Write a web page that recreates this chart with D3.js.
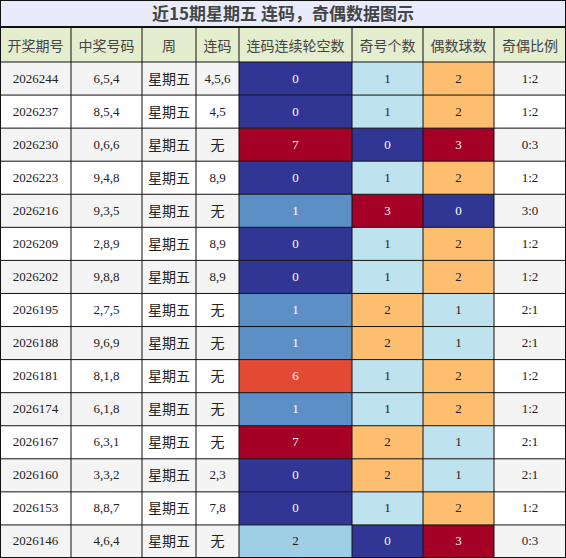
<!DOCTYPE html><html><head><meta charset="utf-8"><script src="https://cdn.jsdelivr.net/npm/d3@7"></script>
<style>body{margin:0;background:#fff}</style></head><body><svg id="c" width="566" height="558"></svg>
<script>
const headers=["开奖期号","中奖号码","周","连码","连码连续轮空数","奇号个数","偶数球数","奇偶比例"];
const issues=["2026244","2026237","2026230","2026223","2026216","2026209","2026202","2026195","2026188","2026181","2026174","2026167","2026160","2026153","2026146"];
const numbers=["6,5,4","8,5,4","0,6,6","9,4,8","9,3,5","2,8,9","9,8,8","2,7,5","9,6,9","8,1,8","6,1,8","6,3,1","3,3,2","8,8,7","4,6,4"];
const links=["4,5,6","4,5","无","8,9","无","8,9","8,9","无","无","无","无","无","2,3","7,8","无"];
const gaps=[0,0,7,0,1,0,0,1,1,6,1,7,0,0,2];
const odds=[1,1,0,1,3,1,1,2,2,1,1,2,2,1,0];
const evens=[2,2,3,2,0,2,2,1,1,2,2,1,1,2,3];
const ratios=["1:2","1:2","0:3","1:2","3:0","1:2","1:2","2:1","2:1","1:2","1:2","2:1","2:1","1:2","0:3"];
const colEdges=[0,71,142,196,239,352,423,494,566];
const svg=d3.select("#c");
const y=d3.scaleBand().domain(d3.range(15)).range([62,558]);
const gapColor=v=>({0:"#313695",1:"#5b8fc6",2:"#9ecfe4",6:"#e34a33",7:"#a50026"}[v]);
const cntColor=v=>({0:"#313695",1:"#bfe3ee",2:"#fdbf6f",3:"#a50026"}[v]);
const dark=c=>["#313695","#5b8fc6","#e34a33","#a50026"].includes(c);
svg.append("rect").attr("x",0).attr("y",0).attr("width",566).attr("height",27).attr("fill","#e8ebfb");
svg.append("text").attr("x",283).attr("y",20).attr("text-anchor","middle").attr("font-family","Noto Sans CJK SC").attr("font-weight","bold").attr("font-size",17).attr("fill","#444").text("近15期星期五 连码，奇偶数据图示");
headers.forEach((h,i)=>{const x0=colEdges[i],x1=colEdges[i+1];
svg.append("rect").attr("x",x0).attr("y",27).attr("width",x1-x0).attr("height",35).attr("fill","#e4edce");
svg.append("text").attr("x",(x0+x1)/2).attr("y",51).attr("text-anchor","middle").attr("font-family","Noto Sans CJK SC").attr("font-size",14).attr("fill","#444").text(h);});
for(let r=0;r<15;r++){
 const cells=[issues[r],numbers[r],"星期五",links[r],gaps[r],odds[r],evens[r],ratios[r]];
 const fills=[null,null,null,null,gapColor(gaps[r]),cntColor(odds[r]),cntColor(evens[r]),null];
 cells.forEach((v,i)=>{const x0=colEdges[i],x1=colEdges[i+1];const f=fills[i]||(r%2==0?"#f4f4f4":"#fff");
  svg.append("rect").attr("x",x0).attr("y",y(r)).attr("width",x1-x0).attr("height",y.bandwidth()).attr("fill",f);
  const cjk=(i==2||v==="无");
  svg.append("text").attr("x",(x0+x1)/2).attr("y",y(r)+y.bandwidth()/2+(cjk?5:4)).attr("text-anchor","middle")
   .attr("font-family",cjk?"Noto Sans CJK SC":"Liberation Serif").attr("font-size",cjk?14:13)
   .attr("fill",fills[i]&&dark(fills[i])?"#fff":"#222").text(v);});
}
const g=svg.append("g").attr("stroke","#111");
colEdges.forEach((x,i)=>{const xx=Math.min(Math.max(x,0.5),565.5);g.append("line").attr("x1",xx).attr("x2",xx).attr("y1",i==0||i==8?0:27).attr("y2",558).attr("stroke-width",1);});
[0.5,27,62,...d3.range(1,15).map(r=>y(r)),557.5].forEach((yy,i)=>g.append("line").attr("x1",0).attr("x2",566).attr("y1",yy).attr("y2",yy).attr("stroke-width",i==1?2:1));
</script></body></html>
